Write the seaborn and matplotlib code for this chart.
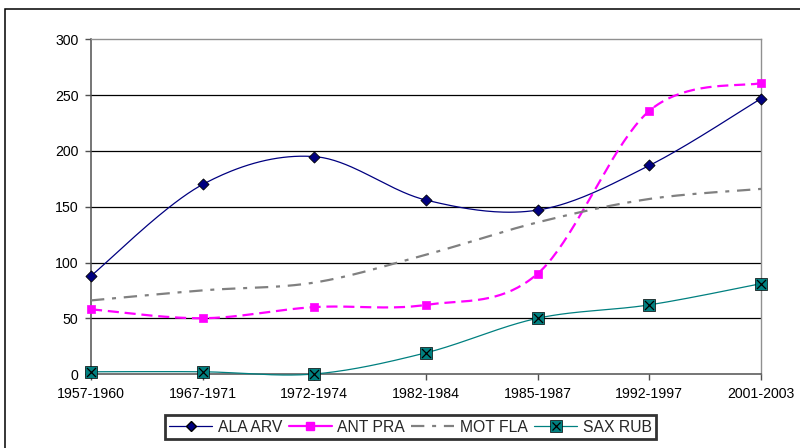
import numpy as np
import pandas as pd
import matplotlib
matplotlib.use("Agg")
import matplotlib.pyplot as plt
from matplotlib.lines import Line2D
from matplotlib.legend_handler import HandlerTuple
from matplotlib.patches import Rectangle
import seaborn as sns

periods = ["1957-1960", "1967-1971", "1972-1974", "1982-1984",
           "1985-1987", "1992-1997", "2001-2003"]
ala_arv = [88, 170, 195, 156, 147, 187, 247]
ant_pra = [58, 50, 60, 62, 90, 236, 261]
mot_fla = [66, 75, 82, 107, 136, 157, 166]
sax_rub = [2, 2, 0, 19, 50, 62, 81]
y_ticks = [0, 50, 100, 150, 200, 250, 300]

sns.set_theme(style="white")
plt.rcParams["font.family"] = ["Liberation Sans", "DejaVu Sans"]
FS = 10.2
LEG_FS = 11.3


def smooth(xs, ys, n=40):
    """Bezier smoothing through every point (cardinal spline)."""
    xs = np.asarray(xs, float)
    ys = np.asarray(ys, float)
    pts = np.column_stack([xs, ys])
    out = [pts[0]]
    m = len(pts)
    for i in range(m - 1):
        p0 = pts[i - 1] if i > 0 else pts[i]
        p1 = pts[i]
        p2 = pts[i + 1]
        p3 = pts[i + 2] if i + 2 < m else pts[i + 1]
        c1 = p1 + (p2 - p0) / 6.0
        c2 = p2 - (p3 - p1) / 6.0
        t = np.linspace(0, 1, n)[1:, None]
        seg = ((1 - t) ** 3) * p1 + 3 * ((1 - t) ** 2) * t * c1 \
            + 3 * (1 - t) * t ** 2 * c2 + t ** 3 * p2
        out.extend(seg)
    out = np.array(out)
    return out[:, 0], out[:, 1]


fig = plt.figure(figsize=(8, 4.48), dpi=100)
ax = fig.add_axes([91 / 800, 1 - 374 / 448, 670 / 800, 334.5 / 448])

x = np.arange(len(periods))

ANT_LS = (0, (5, 2.6))
MOT_LS = (0, (6, 3.5, 1.8, 3.5))
series = [
    ("ALA ARV", ala_arv, dict(color="#000080", lw=0.9, ls="-")),
    ("ANT PRA", ant_pra, dict(color="#FF00FF", lw=1.6, ls=ANT_LS)),
    ("MOT FLA", mot_fla, dict(color="#808080", lw=1.6, ls=MOT_LS)),
    ("SAX RUB", sax_rub, dict(color="#008080", lw=0.9, ls="-")),
]

for name, vals, st in series:
    sx, sy = smooth(x, vals)
    df = pd.DataFrame({"x": sx, "y": sy})
    sns.lineplot(data=df, x="x", y="y", ax=ax, color=st["color"],
                 linewidth=st["lw"], linestyle=st["ls"], sort=False,
                 estimator=None, zorder=3, clip_on=False)

pts = pd.DataFrame({"x": x, "ala": ala_arv, "ant": ant_pra, "sax": sax_rub})
sns.scatterplot(data=pts, x="x", y="ala", ax=ax, marker="D", s=32,
                color="#000080", edgecolor="black", linewidth=0.6,
                zorder=5, clip_on=False)
sns.scatterplot(data=pts, x="x", y="ant", ax=ax, marker="s", s=38,
                color="#FF00FF", edgecolor="#FF00FF", linewidth=0.5,
                zorder=5, clip_on=False)
sns.scatterplot(data=pts, x="x", y="sax", ax=ax, marker="s", s=72,
                color="#008080", edgecolor="black", linewidth=0.5,
                zorder=5, clip_on=False)
sns.scatterplot(data=pts, x="x", y="sax", ax=ax, marker="x", s=42,
                color="black", linewidth=0.9, zorder=6, clip_on=False)

ax.set_xlim(0, len(periods) - 1)
ax.set_ylim(0, 300)
ax.set_yticks(y_ticks)
ax.set_yticklabels([str(v) for v in y_ticks], fontsize=FS)
ax.set_xticks(x)
ax.set_xticklabels(periods, fontsize=FS)
ax.set_xlabel("")
ax.set_ylabel("")
for v in y_ticks[1:-1]:
    ax.axhline(v, color="black", lw=0.9, zorder=1)

for side in ("top", "right"):
    ax.spines[side].set_color("#909090")
    ax.spines[side].set_linewidth(1.0)
for side in ("left", "bottom"):
    ax.spines[side].set_color("#505050")
    ax.spines[side].set_linewidth(1.1)
ax.tick_params(axis="both", direction="out", length=4, width=1.0,
               color="#505050", pad=5, labelcolor="black")
ax.tick_params(axis="x", bottom=True)
ax.tick_params(axis="y", left=True)

# Outer chart frame
fig.patches.append(Rectangle((5 / 800, -0.05), 1.0, 1 - 9 / 448 + 0.05,
                             transform=fig.transFigure, fill=False,
                             edgecolor="black", linewidth=1.1, zorder=0))

handles = [
    Line2D([], [], color="#000080", lw=0.9, marker="D", markersize=5,
           markerfacecolor="#000080", markeredgecolor="black"),
    Line2D([], [], color="#FF00FF", lw=1.6, marker="s", markersize=6,
           markerfacecolor="#FF00FF", markeredgecolor="#FF00FF"),
    Line2D([], [], color="#808080", lw=1.6, ls=MOT_LS),
    (Line2D([], [], color="#008080", lw=0.9, marker="s", markersize=8,
            markerfacecolor="#008080", markeredgecolor="black",
            markeredgewidth=0.5),
     Line2D([], [], ls="none", marker="x", markersize=6, color="black",
            markeredgewidth=0.9)),
]
leg = fig.legend(handles, ["ALA ARV", "ANT PRA", "MOT FLA", "SAX RUB"],
                 loc="center", bbox_to_anchor=(410.5 / 800, 1 - 427 / 448),
                 ncol=4, fontsize=LEG_FS, frameon=True, fancybox=False,
                 handlelength=2.75, handletextpad=0.35, columnspacing=0.4,
                 borderpad=0.3,
                 handler_map={tuple: HandlerTuple(ndivide=1)})
leg.get_frame().set_edgecolor("black")
leg.get_frame().set_linewidth(2.0)

fig.savefig("out.png", dpi=100)
